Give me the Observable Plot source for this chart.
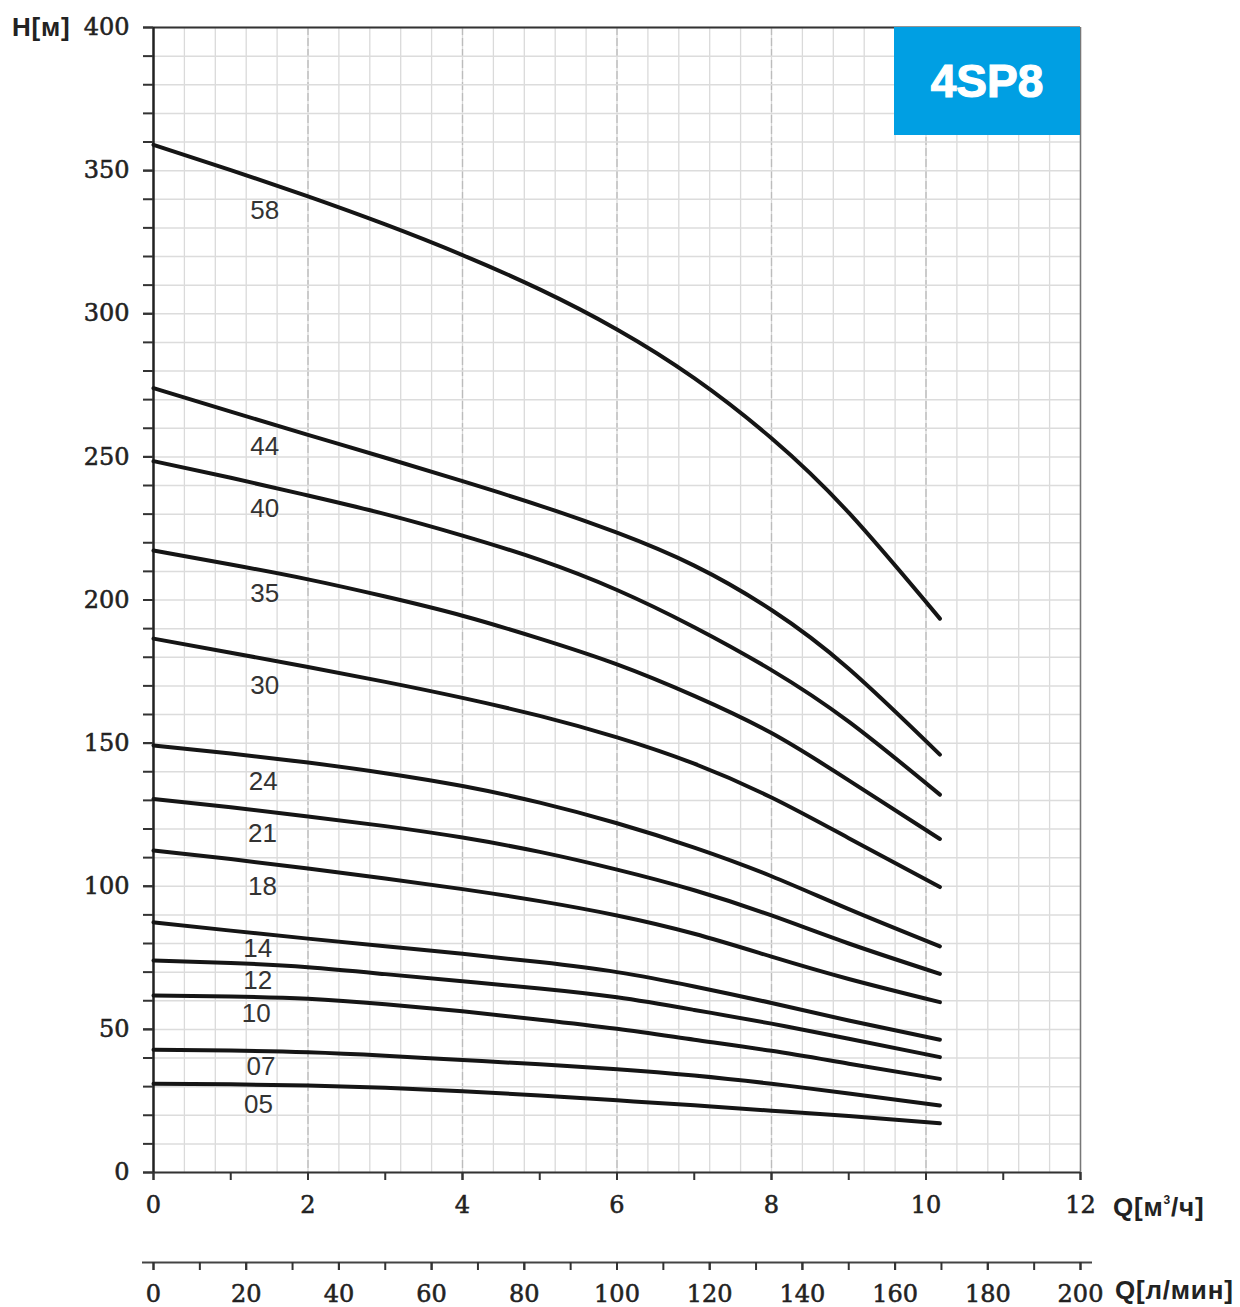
<!DOCTYPE html>
<html><head><meta charset="utf-8">
<script src="https://cdn.jsdelivr.net/npm/d3@7"></script>
<script src="https://cdn.jsdelivr.net/npm/@observablehq/plot@0.6"></script>
<style>
body{margin:0;background:#fff;}
#wrap{position:relative;width:1240px;height:1307px;overflow:hidden;background:#fff;}
#wrap svg{position:absolute;left:0;top:0;}
#wrap svg g[aria-label$="tick label"] text{stroke:#222;stroke-width:0.55px;}
.lbl{position:absolute;font-family:"Liberation Sans",Arial,sans-serif;font-weight:bold;color:#222;line-height:1;white-space:nowrap;letter-spacing:0.8px;}
#badge{position:absolute;left:894px;top:27px;width:186px;height:108px;background:#009fe3;color:#fff;
  font:bold 46px "Liberation Sans",Arial,sans-serif;display:flex;align-items:center;justify-content:center;
  -webkit-text-stroke:1.2px #fff;}
</style></head><body>
<div id="wrap"></div>
<script>
// ---- data ----
const flow = [0, 1, 2, 3, 4, 5, 6, 7, 8, 9, 10.18]; // Q, m3/h
const stages = ["58","44","40","35","30","24","21","18","14","12","10","07","05"];
const h58 = [359, 350.2, 341, 331.2, 320.5, 308.5, 294.5, 277.5, 256.5, 230.5, 193.5];
const h44 = [274, 265.8, 257.7, 249.7, 241.5, 233, 223.5, 212, 196.5, 176, 146];
const h40 = [248.5, 242.7, 236.5, 230, 222.5, 214, 203.5, 190.5, 175.5, 157.5, 132];
const h35 = [217.3, 212.4, 207.2, 201.2, 194.5, 186.5, 177.5, 166.5, 153.5, 137, 116.5];
const h30 = [186.5, 181.6, 176.6, 171.4, 165.8, 159.5, 152, 142.8, 131, 116.8, 99.7];
const h24 = [149.2, 146.4, 143.2, 139.5, 135, 129.2, 122, 113.5, 103.5, 92, 79];
const h21 = [130.5, 127.6, 124.4, 121, 117, 112, 105.8, 98.6, 89.8, 80, 69.4];
const h18 = [112.5, 109.5, 106.2, 102.7, 99, 94.8, 89.8, 83.4, 75.4, 67.6, 59.5];
const h14 = [87.4, 84.5, 81.7, 79, 76.4, 73.5, 70, 65, 59.2, 53.1, 46.4];
const h12 = [74.1, 73.2, 71.7, 69.3, 66.8, 64.3, 61.2, 56.8, 52, 46.7, 40.3];
const h10 = [61.8, 61.5, 60.7, 58.8, 56.3, 53.4, 50.2, 46.4, 42.5, 38, 32.7];
const h07 = [42.9, 42.6, 42, 40.8, 39.3, 37.8, 36.1, 33.9, 31, 27.6, 23.4];
const h05 = [31, 30.8, 30.4, 29.6, 28.4, 26.9, 25.2, 23.5, 21.6, 19.7, 17.2];
const heads = [h58, h44, h40, h35, h30, h24, h21, h18, h14, h12, h10, h07, h05];

// curve label anchor points (in data units)
const labelQ = [1.44, 1.44, 1.44, 1.44, 1.44, 1.42, 1.41, 1.41, 1.35, 1.35, 1.33, 1.39, 1.36];
const labelH = [336, 253.4, 232, 202.2, 170.1, 136.4, 118.5, 99.7, 78.1, 67.1, 55.4, 37, 23.8];

// axes
const yTicks = d3.range(0, 401, 10);
const yLabels = [0, 50, 100, 150, 200, 250, 300, 350, 400];
const xTicks = [0,1,2,3,4,5,6,7,8,9,10,11,12];
const xLabels = [0,2,4,6,8,10,12];
const xGrid = d3.range(0, 30.5, 1).map(i => i * 0.4);
const xGridMajor = [2, 4, 6, 8, 10];
const lpmTicks = d3.range(0, 201, 10);
const lpmLabels = [0,20,40,60,80,100,120,140,160,180,200];
const title = "4SP8";

// ---- build ----
const rows = [];
stages.forEach((s, i) => flow.forEach((q, j) => rows.push({stage: s, q, h: heads[i][j]})));
const labelRows = stages.map((s, i) => ({stage: s, q: labelQ[i], h: labelH[i]}));

const serif = "'DejaVu Serif', serif";
const chart = Plot.plot({
  width: 1240, height: 1240,
  marginTop: 27, marginLeft: 153, marginRight: 160, marginBottom: 68,
  x: {domain: [0, 12]},
  y: {domain: [0, 400]},
  style: {background: "transparent", fontFamily: serif, color: "#222"},
  marks: [
    Plot.gridX(xGrid, {stroke: "#dadada", strokeOpacity: 1, strokeWidth: 1.3}),
    Plot.gridX(xGridMajor, {stroke: "#bcbcbc", strokeOpacity: 1, strokeWidth: 1.3, strokeDasharray: "8,3"}),
    Plot.gridY(yTicks, {stroke: "#dcdcdc", strokeOpacity: 1, strokeWidth: 1.5}),
    Plot.ruleX([12], {stroke: "#777", strokeWidth: 1.5}),
    Plot.ruleY([400], {stroke: "#333", strokeWidth: 2}),
    Plot.ruleY([0], {stroke: "#333", strokeWidth: 2}),
    Plot.ruleX([0], {stroke: "#222", strokeWidth: 2.5}),
    Plot.axisY(yTicks, {tickSize: 10, tickFormat: () => "", label: null, stroke: "#333", strokeWidth: 2}),
    Plot.axisY(yLabels, {tickSize: 10, tickPadding: 14, fontSize: 24, label: null, stroke: "#333", strokeWidth: 2, fill: "#222"}),
    Plot.axisX(xTicks, {tickSize: 8, tickFormat: () => "", label: null, stroke: "#333", strokeWidth: 2}),
    Plot.axisX(xLabels, {tickSize: 8, tickPadding: 15, fontSize: 24, label: null, stroke: "#333", strokeWidth: 2, fill: "#222"}),
    Plot.line(rows, {x: "q", y: "h", z: "stage", curve: "natural", stroke: "#151515", strokeWidth: 4}),
    Plot.text(labelRows, {x: "q", y: "h", text: "stage", fontSize: 26, fontFamily: "'Liberation Sans', Arial, sans-serif", fill: "#333"})
  ]
});

const chart2 = Plot.plot({
  width: 1240, height: 72,
  marginTop: 8, marginBottom: 47, marginLeft: 153, marginRight: 160,
  x: {domain: [0, 200]},
  y: {domain: [0, 1], axis: null},
  style: {background: "transparent", fontFamily: serif, color: "#222", overflow: "visible"},
  marks: [
    Plot.ruleY([0], {stroke: "#444", strokeWidth: 2, insetLeft: -11, insetRight: -12}),
    Plot.axisX(lpmTicks, {tickSize: 8, tickFormat: () => "", label: null, stroke: "#333", strokeWidth: 2}),
    Plot.axisX(lpmLabels, {tickSize: 8, tickPadding: 14, fontSize: 24, label: null, stroke: "#333", strokeWidth: 2, fill: "#222"})
  ]
});

const wrap = document.getElementById("wrap");
wrap.appendChild(chart);
chart2.style.top = "1237px";
wrap.appendChild(chart2);

const badge = document.createElement("div");
badge.id = "badge"; badge.textContent = title;
wrap.appendChild(badge);

function addLabel(html, left, top, size) {
  const d = document.createElement("div");
  d.className = "lbl"; d.innerHTML = html;
  d.style.left = left + "px"; d.style.top = top + "px"; d.style.fontSize = size + "px";
  wrap.appendChild(d);
}
addLabel("H[м]", 12, 14, 26);
addLabel("Q[м<span style=\"font-size:12px;position:relative;top:-12px\">3</span>/ч]", 1113, 1194, 26);
addLabel("Q[л/мин]", 1115, 1277, 26);
</script>
</body></html>
